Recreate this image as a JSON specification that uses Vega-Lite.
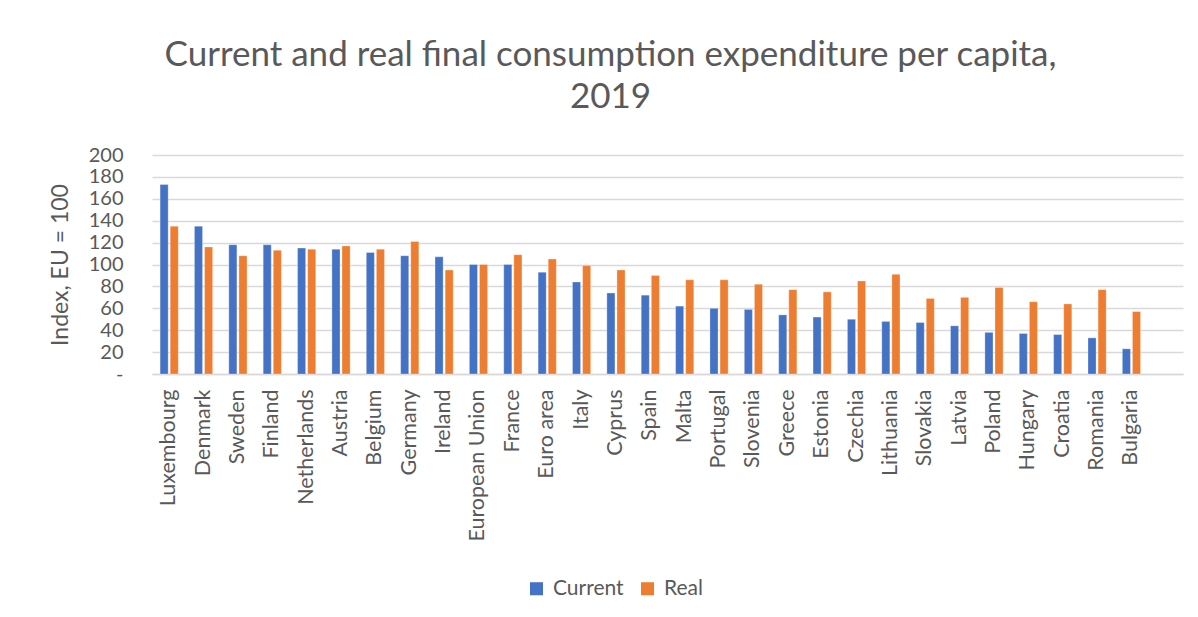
{
  "$schema": "https://vega.github.io/schema/vega-lite/v6.json",
  "width": 1031,
  "height": 219,
  "autosize": {"type": "none"},
  "padding": {"left": 152, "top": 155, "right": 15, "bottom": 243},
  "background": "white",
  "title": {
    "text": ["Current and real final consumption expenditure per capita,", "2019"],
    "font": "Lato",
    "fontSize": 35,
    "fontWeight": "normal",
    "color": "#595959",
    "anchor": "middle",
    "frame": "group",
    "dx": -57,
    "lineHeight": 42,
    "offset": 30
  },
  "config": {
    "view": {"stroke": null},
    "font": "Lato"
  },
  "data": {
    "values": [
      {"country": "Luxembourg", "series": "Current", "value": 173},
      {"country": "Luxembourg", "series": "Real", "value": 135},
      {"country": "Denmark", "series": "Current", "value": 135},
      {"country": "Denmark", "series": "Real", "value": 116},
      {"country": "Sweden", "series": "Current", "value": 118},
      {"country": "Sweden", "series": "Real", "value": 108},
      {"country": "Finland", "series": "Current", "value": 118},
      {"country": "Finland", "series": "Real", "value": 113},
      {"country": "Netherlands", "series": "Current", "value": 115},
      {"country": "Netherlands", "series": "Real", "value": 114},
      {"country": "Austria", "series": "Current", "value": 114},
      {"country": "Austria", "series": "Real", "value": 117},
      {"country": "Belgium", "series": "Current", "value": 111},
      {"country": "Belgium", "series": "Real", "value": 114},
      {"country": "Germany", "series": "Current", "value": 108},
      {"country": "Germany", "series": "Real", "value": 121},
      {"country": "Ireland", "series": "Current", "value": 107},
      {"country": "Ireland", "series": "Real", "value": 95},
      {"country": "European Union", "series": "Current", "value": 100},
      {"country": "European Union", "series": "Real", "value": 100},
      {"country": "France", "series": "Current", "value": 100},
      {"country": "France", "series": "Real", "value": 109},
      {"country": "Euro area", "series": "Current", "value": 93},
      {"country": "Euro area", "series": "Real", "value": 105},
      {"country": "Italy", "series": "Current", "value": 84},
      {"country": "Italy", "series": "Real", "value": 99},
      {"country": "Cyprus", "series": "Current", "value": 74},
      {"country": "Cyprus", "series": "Real", "value": 95},
      {"country": "Spain", "series": "Current", "value": 72},
      {"country": "Spain", "series": "Real", "value": 90},
      {"country": "Malta", "series": "Current", "value": 62},
      {"country": "Malta", "series": "Real", "value": 86},
      {"country": "Portugal", "series": "Current", "value": 60},
      {"country": "Portugal", "series": "Real", "value": 86},
      {"country": "Slovenia", "series": "Current", "value": 59},
      {"country": "Slovenia", "series": "Real", "value": 82},
      {"country": "Greece", "series": "Current", "value": 54},
      {"country": "Greece", "series": "Real", "value": 77},
      {"country": "Estonia", "series": "Current", "value": 52},
      {"country": "Estonia", "series": "Real", "value": 75},
      {"country": "Czechia", "series": "Current", "value": 50},
      {"country": "Czechia", "series": "Real", "value": 85},
      {"country": "Lithuania", "series": "Current", "value": 48},
      {"country": "Lithuania", "series": "Real", "value": 91},
      {"country": "Slovakia", "series": "Current", "value": 47},
      {"country": "Slovakia", "series": "Real", "value": 69},
      {"country": "Latvia", "series": "Current", "value": 44},
      {"country": "Latvia", "series": "Real", "value": 70},
      {"country": "Poland", "series": "Current", "value": 38},
      {"country": "Poland", "series": "Real", "value": 79},
      {"country": "Hungary", "series": "Current", "value": 37},
      {"country": "Hungary", "series": "Real", "value": 66},
      {"country": "Croatia", "series": "Current", "value": 36},
      {"country": "Croatia", "series": "Real", "value": 64},
      {"country": "Romania", "series": "Current", "value": 33},
      {"country": "Romania", "series": "Real", "value": 77},
      {"country": "Bulgaria", "series": "Current", "value": 23},
      {"country": "Bulgaria", "series": "Real", "value": 57}
    ]
  },
  "mark": {"type": "bar", "stroke": "white", "strokeWidth": 0.5, "strokeOpacity": 0.6},
  "encoding": {
    "x": {
      "field": "country",
      "type": "nominal",
      "sort": null,
      "scale": {
        "domain": ["Luxembourg", "Denmark", "Sweden", "Finland", "Netherlands", "Austria", "Belgium", "Germany", "Ireland", "European Union", "France", "Euro area", "Italy", "Cyprus", "Spain", "Malta", "Portugal", "Slovenia", "Greece", "Estonia", "Czechia", "Lithuania", "Slovakia", "Latvia", "Poland", "Hungary", "Croatia", "Romania", "Bulgaria", " "],
        "paddingInner": 0,
        "paddingOuter": 0
      },
      "axis": {
        "title": null,
        "labelAngle": -90,
        "labelFontSize": 21.5,
        "labelColor": "#595959",
        "labelPadding": 15,
        "ticks": false,
        "domainColor": "#d9d9d9",
        "domainWidth": 1.5,
        "labelOverlap": false
      }
    },
    "xOffset": {
      "field": "series",
      "type": "nominal",
      "scale": {"paddingInner": 0.2, "paddingOuter": 0.8}
    },
    "y": {
      "field": "value",
      "type": "quantitative",
      "scale": {"domain": [0, 200], "nice": false},
      "axis": {
        "title": "Index, EU = 100",
        "titleFontSize": 23,
        "titleFontWeight": "normal",
        "titleColor": "#595959",
        "titlePadding": 16,
        "values": [0, 20, 40, 60, 80, 100, 120, 140, 160, 180, 200],
        "labelExpr": "datum.value == 0 ? '-\u00a0\u00a0\u00a0' : datum.label",
        "labelFontSize": 20,
        "labelColor": "#595959",
        "labelPadding": 29,
        "ticks": false,
        "domain": false,
        "gridColor": "#d9d9d9",
        "gridWidth": 1.5
      }
    },
    "color": {
      "field": "series",
      "type": "nominal",
      "scale": {"domain": ["Current", "Real"], "range": ["#4472C4", "#ED7D31"]},
      "legend": {
        "title": null,
        "orient": "none",
        "direction": "horizontal",
        "legendX": 374,
        "legendY": 423,
        "symbolType": "square",
        "symbolSize": 170,
        "symbolStrokeWidth": 0,
        "labelFontSize": 21,
        "labelColor": "#595959",
        "columnPadding": 13,
        "labelOffset": 6
      }
    }
  }
}
